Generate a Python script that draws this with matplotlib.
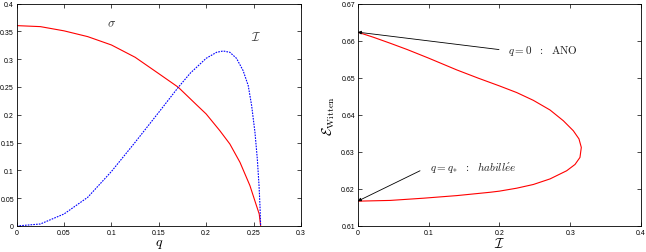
import matplotlib
matplotlib.use("Agg")
import matplotlib.pyplot as plt
from matplotlib.ticker import FormatStrFormatter, MultipleLocator

plt.rcParams['mathtext.fontset'] = 'cm'
plt.rcParams['font.family'] = ['Liberation Sans', 'DejaVu Sans']

# Left panel: sigma(q) and I(q)
q_sigma = [0.0, 0.025, 0.05, 0.075, 0.1, 0.125, 0.15, 0.1706, 0.19, 0.2, 0.2144, 0.225,
           0.2357, 0.2462, 0.2525, 0.256, 0.2575]
sigma = [0.3604, 0.3586, 0.351, 0.3406, 0.3256, 0.3035, 0.274, 0.2495, 0.2177, 0.2015, 0.1715,
         0.1475, 0.1145, 0.0726, 0.0396, 0.0216, 0.0]
q_I = [0.0, 0.025, 0.05, 0.075, 0.1, 0.125, 0.15, 0.1706, 0.1833, 0.2, 0.211, 0.218, 0.225,
       0.232, 0.239, 0.2444, 0.248, 0.2515, 0.254, 0.2558, 0.2568, 0.2575]
I_vals = [0.0, 0.0036, 0.0216, 0.0516, 0.098, 0.1505, 0.2045, 0.2495, 0.275, 0.3016, 0.3124,
          0.3148, 0.3124, 0.3016, 0.2795, 0.2525, 0.2165, 0.1685, 0.1205, 0.0726, 0.0366, 0.0]

# Right panel: E_Witten vs I (parametric curve, upper then lower branch)
I_curve = [0.0, 0.0225, 0.046, 0.07, 0.1, 0.14, 0.17, 0.2, 0.2245, 0.248, 0.2715, 0.2903,
           0.3044, 0.3124, 0.3157, 0.3138, 0.3068, 0.295, 0.2715, 0.248, 0.2245, 0.2, 0.187,
           0.14, 0.093, 0.046, 0.0]
E_curve = [0.6623, 0.6609, 0.6593, 0.6576, 0.6553, 0.6521, 0.6499, 0.6478, 0.6460, 0.6439,
           0.6413, 0.6384, 0.6357, 0.6335, 0.6312, 0.6285, 0.6266, 0.6249, 0.6227, 0.6212,
           0.6202, 0.6194, 0.6191, 0.6182, 0.6175, 0.6169, 0.6167]

fig = plt.figure(figsize=(6.46, 2.53), dpi=100)
ax1 = fig.add_axes([0.0258, 0.1028, 0.440, 0.879])
ax2 = fig.add_axes([0.5537, 0.1028, 0.4386, 0.879])

ax1.plot(q_sigma, sigma, color='#ff0000', lw=0.8)
ax1.plot(q_I, I_vals, color='#0000ff', lw=0.8, linestyle=(0, (1.5, 1)))
ax1.set_xlim(0, 0.3)
ax1.set_ylim(0, 0.4)
ax1.xaxis.set_major_locator(MultipleLocator(0.05))
ax1.yaxis.set_major_locator(MultipleLocator(0.05))
ax1.text(0.1, 0.364, r'$\sigma$', fontsize=9, ha='center', va='center', color='#333333')
ax1.text(0.253, 0.341, r'$\mathcal{I}$', fontsize=9, ha='center', va='center', color='#333333')
ax1.set_xlabel(r'$q$', fontsize=10, labelpad=0)

ax2.plot(I_curve, E_curve, color='#ff0000', lw=0.8)
ax2.set_xlim(0, 0.4)
ax2.set_ylim(0.61, 0.67)
ax2.xaxis.set_major_locator(MultipleLocator(0.1))
ax2.yaxis.set_major_locator(MultipleLocator(0.01))
ax2.set_xlabel(r'$\mathcal{I}$', fontsize=10, labelpad=0)
ax2.set_ylabel(r'$\mathcal{E}_{\rm Witten}$', fontsize=10, labelpad=3)

arrow = dict(arrowstyle='-|>', color='black', lw=0.6, mutation_scale=5, shrinkA=0, shrinkB=0)
ax2.annotate('', xy=(0.0, 0.6623), xytext=(0.1995, 0.6576), arrowprops=arrow)
ax2.text(0.212, 0.6576, r'$q=0\ \ :\ \ \mathrm{ANO}$', fontsize=8, ha='left', va='center',
         color='#222222')
ax2.annotate('', xy=(0.0, 0.6167), xytext=(0.088, 0.6249), arrowprops=arrow)
ax2.text(0.102, 0.626, r'$q=q_{*}\ \ :\ \ \mathit{habill\acute{e}e}$', fontsize=8, ha='left',
         va='center', color='#222222')

for ax in (ax1, ax2):
    ax.xaxis.set_major_formatter(FormatStrFormatter('%g'))
    ax.yaxis.set_major_formatter(FormatStrFormatter('%g'))
    ax.tick_params(direction='in', top=True, right=True, labelsize=5, length=3, width=0.5, pad=2)
    for s in ax.spines.values():
        s.set_linewidth(0.6)

fig.savefig('out.png', dpi=100)
